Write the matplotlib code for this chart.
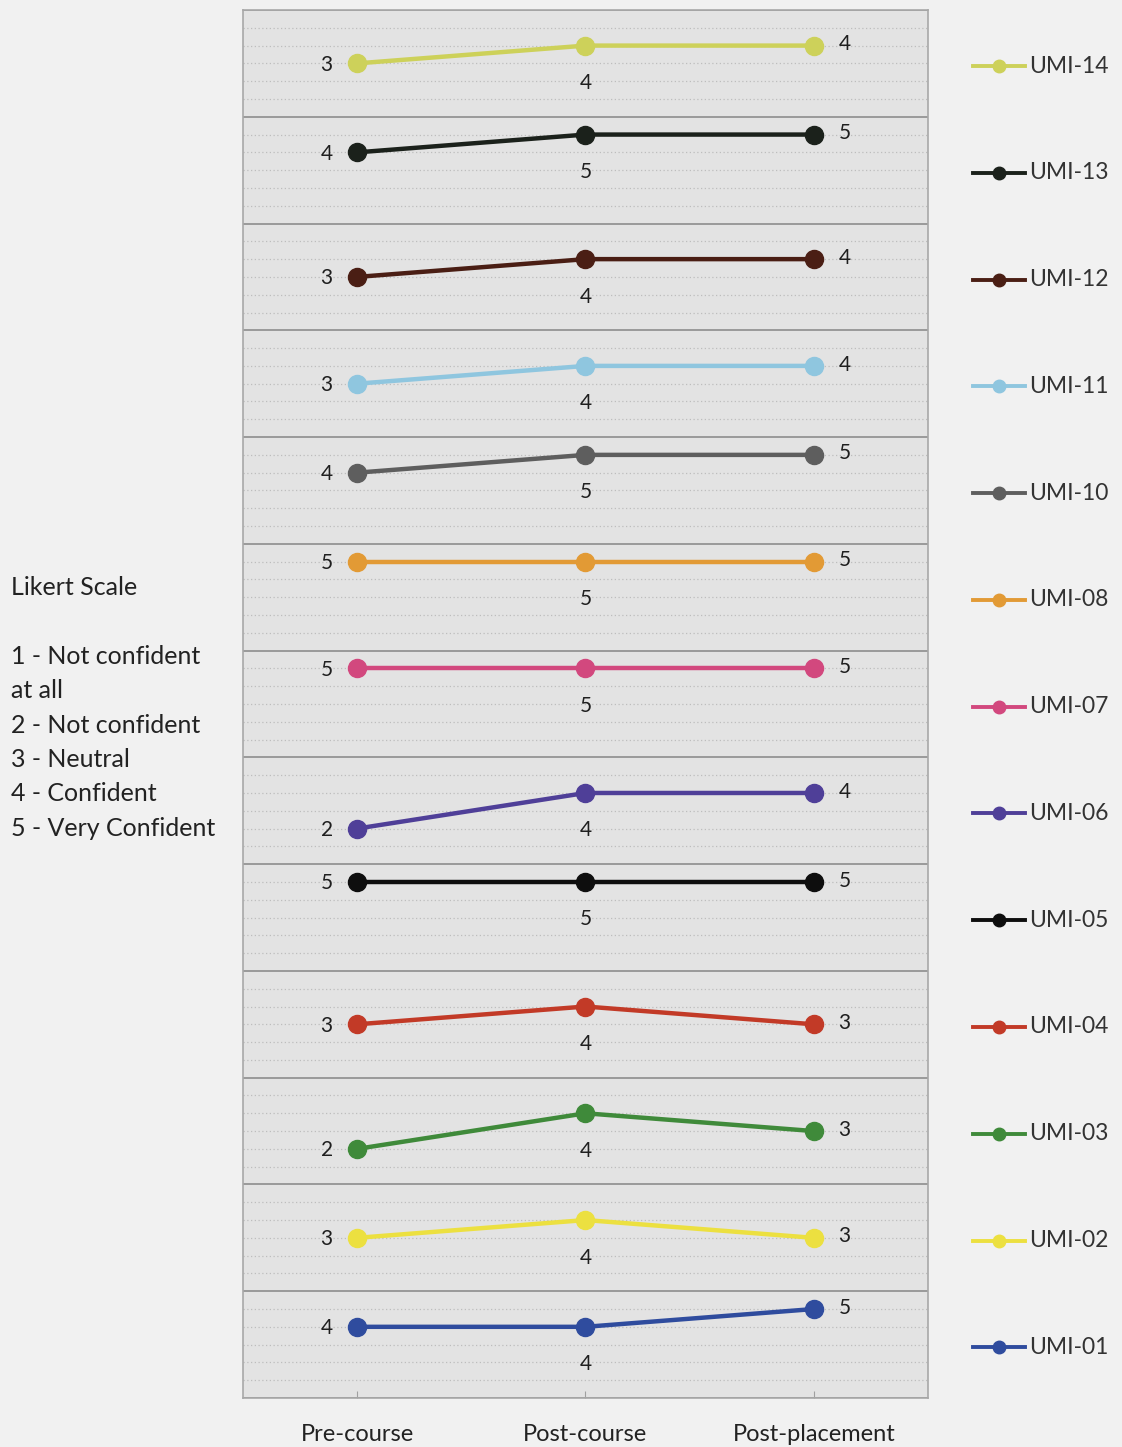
import matplotlib
matplotlib.use("Agg")
import matplotlib.pyplot as plt
from matplotlib.lines import Line2D
from matplotlib.ticker import MultipleLocator

plt.rcParams["font.family"] = ["Lato", "DejaVu Sans"]

STAGES = ["Pre-course", "Post-course", "Post-placement"]
# listed top to bottom, as the bands are stacked
PARTICIPANTS = ["UMI-14", "UMI-13", "UMI-12", "UMI-11", "UMI-10", "UMI-08", "UMI-07",
                "UMI-06", "UMI-05", "UMI-04", "UMI-03", "UMI-02", "UMI-01"]
SCORES = [
    [3, 4, 4],
    [4, 5, 5],
    [3, 4, 4],
    [3, 4, 4],
    [4, 5, 5],
    [5, 5, 5],
    [5, 5, 5],
    [2, 4, 4],
    [5, 5, 5],
    [3, 4, 3],
    [2, 4, 3],
    [3, 4, 3],
    [4, 4, 5],
]
COLORS = ["#cdd15a", "#1b211b", "#4a1e14", "#8fc6df", "#5e5e5e", "#e29a35", "#d2487e",
          "#4f3f98", "#0e0e0e", "#c23a27", "#3f8a3a", "#ece040", "#2f4c9e"]
LIKERT = ("Likert Scale\n\n1 - Not confident\nat all\n2 - Not confident\n"
          "3 - Neutral\n4 - Confident\n5 - Very Confident")

BAND = 6  # each participant gets its own 6-unit strip
W, H = 1122, 1447
AX_L, AX_R, AX_T, AX_B = 243, 928, 10, 1398

fig = plt.figure(figsize=(W / 100, H / 100), dpi=100, facecolor="#f1f1f1")
ax = fig.add_axes([AX_L / W, 1 - AX_B / H, (AX_R - AX_L) / W, (AX_B - AX_T) / H])
ax.set_facecolor("#e3e3e3")


def fig_to_ax_x(px):
    return (px - AX_L) / (AX_R - AX_L)


n = len(PARTICIPANTS)
x = list(range(len(STAGES)))
tr = ax.get_yaxis_transform()
lx0, lx1 = fig_to_ax_x(973), fig_to_ax_x(1025)
for k, (name, vals, col) in enumerate(zip(PARTICIPANTS, SCORES, COLORS)):
    off = BAND * (n - 1 - k)
    ys = [v + off for v in vals]
    ax.plot(x, ys, color=col, lw=3.2, marker="o", ms=13, zorder=3)
    lab = dict(textcoords="offset points", ha="center", va="center",
               fontsize=15, color="#1f1f1f")
    ax.annotate(str(vals[0]), (x[0], ys[0]), xytext=(-22, -1), **lab)
    ax.annotate(str(vals[1]), (x[1], ys[1]), xytext=(0, -27), **lab)
    ax.annotate(str(vals[2]), (x[2], ys[2]), xytext=(22, 1), **lab)

    # legend entry level with the strip
    ly = off + 2.85
    ax.add_line(Line2D([lx0, lx1], [ly, ly], transform=tr, color=col, lw=2.8,
                       clip_on=False))
    ax.add_line(Line2D([(lx0 + lx1) / 2], [ly], transform=tr, color=col, marker="o",
                       ms=9, clip_on=False))
    ax.text(lx1 + 0.006, ly, name, transform=tr, ha="left", va="center",
            fontsize=16.5, color="#333333")

ax.set_xlim(-0.5, 2.5)
ax.set_ylim(0, BAND * n)
ax.set_xticks(x)
ax.set_xticklabels(STAGES, fontsize=17, color="#222222")
ax.tick_params(axis="x", length=5, color="#a0a0a0", pad=19, direction="in")
ax.yaxis.set_minor_locator(MultipleLocator(1))
ax.yaxis.set_major_locator(MultipleLocator(BAND))
ax.tick_params(axis="y", which="both", length=0, labelleft=False)
ax.grid(axis="y", which="minor", color="#bdbdbd", lw=0.9, ls=(0, (1, 2)))
ax.grid(axis="y", which="major", color="#9a9a9a", lw=1.4)
ax.set_axisbelow(True)
for s in ax.spines.values():
    s.set_color("#a8a8a8")
    s.set_linewidth(1.2)

fig.text(11 / W, 1 - 576 / H, LIKERT, ha="left", va="top", fontsize=18,
         color="#222222", linespacing=1.6)

fig.savefig("out.png", dpi=100, facecolor=fig.get_facecolor())
